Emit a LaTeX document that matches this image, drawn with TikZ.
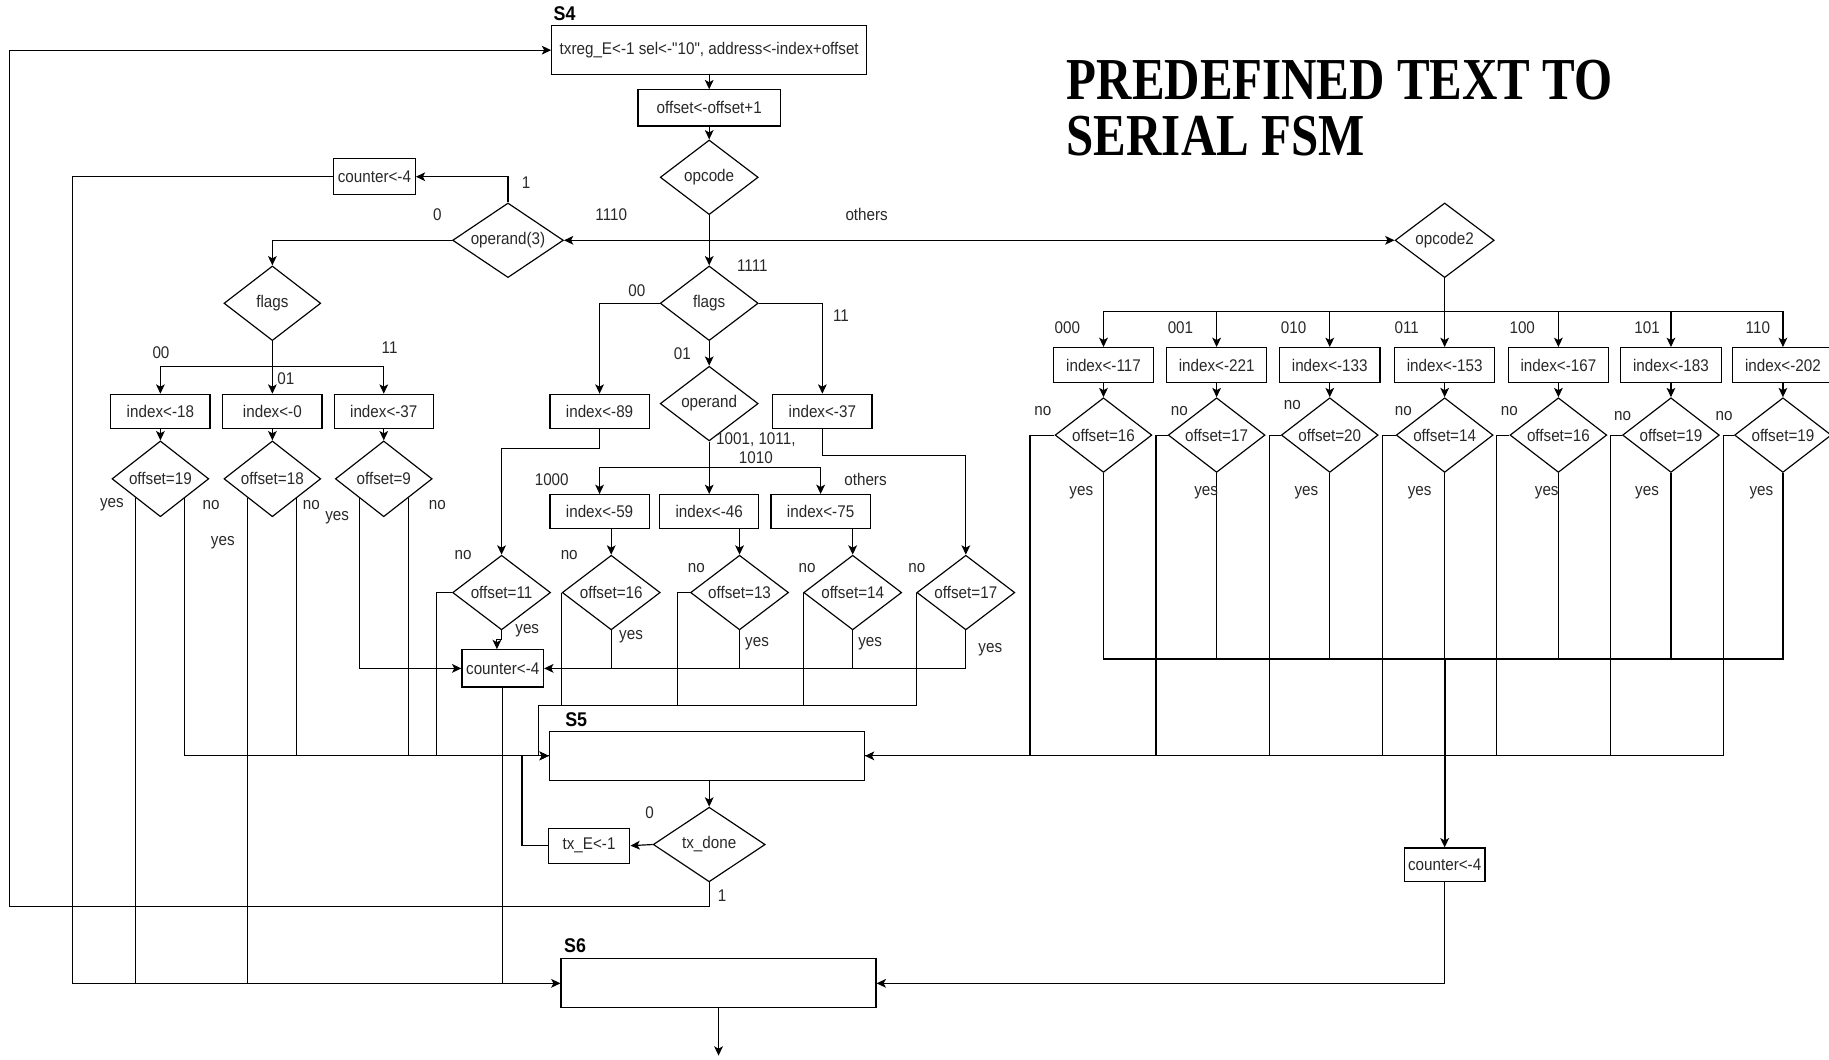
\documentclass[tikz,border=0pt]{standalone}
\usepackage{fontspec}
\setmainfont{Liberation Sans}
\newfontfamily\dfont[FakeStretch=0.9]{Liberation Sans}
\newfontfamily\tfont[FakeStretch=0.823]{Liberation Serif}
\usetikzlibrary{shapes.geometric,arrows.meta}
\definecolor{txtc}{RGB}{40,40,40}
\tikzset{
  every node/.style={font=\dfont\fontsize{14.5}{16}\selectfont, text=txtc},
  box/.style={draw, line width=1pt, inner sep=0pt, minimum width=85pt, minimum height=29pt},
  dia/.style={draw, diamond, aspect=1.4, line width=1pt, inner sep=0pt, minimum width=84pt, minimum height=64pt},
  lab/.style={inner sep=0pt},
  slab/.style={inner sep=0pt, text=black, font=\dfont\bfseries\fontsize{17}{18}\selectfont},
  ttl/.style={inner sep=0pt, text=black, anchor=base west, font=\tfont\bfseries\fontsize{51}{56}\selectfont},
  arr/.style={-{Stealth[length=8pt,width=7.5pt,inset=2pt]}},
}
\begin{document}
\begin{tikzpicture}[x=1pt,y=-1pt,line width=1pt]
\useasboundingbox (0,0) rectangle (1568,908);

% title
\node[ttl] (t1) at (914,85) {PREDEFINED TEXT TO};
\node[ttl] (t2) at (914,133) {SERIAL FSM};

% top
\node[slab] (s4l) at (484,12) {S4};
\node[box, minimum width=270pt, minimum height=42pt] (b1) at (608,43) {txreg\_E<-1 sel<-"10", address<-index+offset};
\node[box, minimum width=122pt, minimum height=31pt] (b2) at (608,92.5) {offset<-offset+1};
\node[dia] (opc) at (608,152) {opcode};
\node[dia, minimum width=95pt] (opd3) at (435.5,206) {operand(3)};
\node[box, minimum width=70pt, minimum height=31pt] (cnt1) at (321,151.5) {counter<-4};
\node[dia, minimum width=85pt] (op2) at (1238.5,206) {opcode2};

% left branch
\node[dia, minimum width=83pt] (fl) at (233.5,260) {flags};
\node[box] (i18) at (137.5,352.5) {index<-18};
\node[box] (i0) at (233.5,352.5) {index<-0};
\node[box] (i37a) at (329,352.5) {index<-37};
\node[dia, minimum width=83pt, minimum height=65pt] (d19) at (137.5,410.5) {offset=19};
\node[dia, minimum width=83pt, minimum height=65pt] (d18) at (233.5,410.5) {offset=18};
\node[dia, minimum width=83pt, minimum height=65pt] (d9) at (329,410.5) {offset=9};

% middle branch
\node[dia] (fm) at (608,260) {flags};
\node[box] (i89) at (514,352.5) {index<-89};
\node[dia] (opd) at (608,346) {\raisebox{3pt}{operand}};
\node[box] (i37b) at (705,352.5) {index<-37};
\node[box] (i59) at (514,438.5) {index<-59};
\node[box] (i46) at (608,438.5) {index<-46};
\node[box] (i75) at (703.5,438.5) {index<-75};
\node[dia] (d11) at (430,508) {offset=11};
\node[dia] (d16) at (524,508) {offset=16};
\node[dia] (d13) at (634,508) {offset=13};
\node[dia] (d14) at (731,508) {offset=14};
\node[dia] (d17) at (828,508) {offset=17};
\node[box, minimum width=70pt, minimum height=32pt] (cnt2) at (431,573) {counter<-4};

% S5 / S6
\node[slab] (s5l) at (494,617) {S5};
\node[box, minimum width=270pt, minimum height=42pt] (s5) at (606,648) {};
\node[dia, minimum width=96pt] (tx) at (608,724) {tx\_done};
\node[box, minimum width=70pt, minimum height=30pt] (txe) at (505,725) {tx\_E<-1};
\node[slab] (s6l) at (493,811) {S6};
\node[box, minimum width=270pt, minimum height=42pt] (s6) at (616,843) {};
\coordinate (s6o) at (616,905);

% right branch
\node[box, minimum width=86pt, minimum height=30pt] (j1) at (946,313) {index<-117};
\node[box, minimum width=86pt, minimum height=30pt] (j2) at (1043,313) {index<-221};
\node[box, minimum width=86pt, minimum height=30pt] (j3) at (1140,313) {index<-133};
\node[box, minimum width=86pt, minimum height=30pt] (j4) at (1238.5,313) {index<-153};
\node[box, minimum width=86pt, minimum height=30pt] (j5) at (1336,313) {index<-167};
\node[box, minimum width=86pt, minimum height=30pt] (j6) at (1432.5,313) {index<-183};
\node[box, minimum width=86pt, minimum height=30pt] (j7) at (1528.5,313) {index<-202};
\node[dia, minimum width=83pt] (r1) at (946,373) {offset=16};
\node[dia, minimum width=83pt] (r2) at (1043,373) {offset=17};
\node[dia, minimum width=83pt] (r3) at (1140,373) {offset=20};
\node[dia, minimum width=83pt] (r4) at (1238.5,373) {offset=14};
\node[dia, minimum width=83pt] (r5) at (1336,373) {offset=16};
\node[dia, minimum width=83pt] (r6) at (1432.5,373) {offset=19};
\node[dia, minimum width=83pt] (r7) at (1528.5,373) {offset=19};
\node[box, minimum width=69pt, minimum height=29pt] (cnt3) at (1238.5,741.5) {counter<-4};

% ---------- connectors ----------
\draw[arr] (b1.south) -- (b2.north);
\draw[arr] (b2.south) -- (opc.north);
\draw[arr] (opc.south) -- (fm.north);
\draw[arr] (opc.south |- opd3.east) -- (opd3.east);
\draw[arr] (opc.south |- op2.west) -- (op2.west);
\draw[arr] (opd3.north) |- (cnt1.east);
\draw[arr] (opd3.west) -| (fl.north);
\coordinate (c62) at (62,0);
\draw[arr] (cnt1.west) -| (c62 |- s6.west) -- (s6.west);

% left flags
\coordinate (fb) at (233.5,314);
\draw[arr] (fl.south) -- (i0.north);
\draw[arr] (fb) -| (i18.north);
\draw[arr] (fb) -| (i37a.north);
\draw[arr] (i18.south) -- (d19.north);
\draw[arr] (i0.south) -- (d18.north);
\draw[arr] (i37a.south) -- (d9.north);
\draw (d19.south west) -- (d19.south west |- s6.west);
\draw (d18.south west) -- (d18.south west |- s6.west);
\draw[arr] (d19.south east) |- (s5.west);
\draw (d18.south east) -- (d18.south east |- s5.west);
\draw (d9.south east) -- (d9.south east |- s5.west);
\draw[arr] (d9.south west) |- (cnt2.west);

% middle flags
\draw[arr] (fm.west) -| (i89.north);
\draw[arr] (fm.east) -| (i37b.north);
\draw[arr] (fm.south) -- (opd.north);
\coordinate (ob) at (608,401);
\draw[arr] (opd.south) -- (i46.north);
\draw[arr] (ob) -| (i59.north);
\draw[arr] (ob) -| (i75.north);
\draw[arr] (d16.north |- i59.south) -- (d16.north);
\draw[arr] (d13.north |- i46.south) -- (d13.north);
\draw[arr] (d14.north |- i75.south) -- (d14.north);
\draw[arr] (i89.south) -- ++(0,17) -| (d11.north);
\draw[arr] (i37b.south) -- ++(0,23) -| (d17.north);
\draw[arr] (d11.south) -- ++(0,8) -| ([xshift=-5pt]cnt2.north);

\coordinate (h605) at (462,605);
\draw[arr] (d17.west) |- (h605) |- (s5.west);
\draw (d16.west) -- (d16.west |- h605);
\draw (d13.west) -- ++(-11,0) |- (h605);
\draw (d14.west) -- (d14.west |- h605);
\draw (d11.west) -- ++(-13,0) |- (s5.west);

\draw[arr] (d17.south) |- (cnt2.east);
\draw (d16.south) -- (d16.south |- cnt2.east);
\draw (d13.south) -- (d13.south |- cnt2.east);
\draw (d14.south) -- (d14.south |- cnt2.east);
\draw (cnt2.south) -- (cnt2.south |- s6.west);

% S5 / tx_done
\draw[arr] (tx.north |- s5.south) -- (tx.north);
\draw[arr] (tx.west) -- (txe.east);
\draw (txe.west) -- ++(-22,0) |- (s5.west);
\coordinate (lp) at (8,777);
\draw[arr] (tx.south) |- (lp) |- (b1.west);
\draw[arr] (s6.south) -- (s6o);

% right
\coordinate (rb) at (1238.5,267);
\draw[arr] (op2.south) -- (j4.north);
\foreach \n in {j1,j2,j3,j5,j6,j7} { \draw[arr] (rb) -| (\n.north); }
\foreach \i in {1,...,7} { \draw[arr] (j\i.south) -- (r\i.north); }
\coordinate (yb) at (0,565);
\draw (r1.south) |- (r7.south |- yb) -- (r7.south);
\foreach \i in {2,...,6} { \draw (r\i.south) -- (r\i.south |- yb); }
\draw[arr, line width=1.6pt] (r4.south |- yb) -- (cnt3.north);
\draw[arr] (r7.west) -- ++(-9,0) |- (s5.east);
\draw (r1.west) -- ++(-21,0) |- (s5.east);
\draw (r2.west) -- ++(-10,0) |- (s5.east);
\draw (r3.west) -- ++(-10,0) |- (s5.east);
\draw (r4.west) -- ++(-11,0) |- (s5.east);
\draw (r5.west) -- ++(-11,0) |- (s5.east);
\draw (r6.west) -- ++(-10,0) |- (s5.east);
\draw[arr] (cnt3.south) |- (s6.east);

% ---------- labels ----------
\node[lab] (l1) at (451,157) {1};
\node[lab] (l0) at (375,184) {0};
\node[lab] (l1110) at (524,184) {1110};
\node[lab] (loth) at (743,184) {others};
\node[lab] (l1111) at (645,228) {1111};
\node[lab] (la00) at (138,302) {00};
\node[lab] (la11) at (334,298) {11};
\node[lab] (la01) at (245,325) {01};
\node[lab] (ly1) at (96,433) {yes};
\node[lab] (ln1) at (181,433) {no};
\node[lab] (ln2) at (267,433) {no};
\node[lab] (ly2) at (191,465) {yes};
\node[lab] (ly3) at (289,444) {yes};
\node[lab] (ln3) at (375,433) {no};
\node[lab] (lb00) at (546,249) {00};
\node[lab] (lb11) at (721,271) {11};
\node[lab] (lb01) at (585,303) {01};
\node[lab, align=center] (lops) at (648,384) {1001, 1011,\\1010};
\node[lab] (l1000) at (473,411) {1000};
\node[lab] (loth2) at (742,411) {others};
\node[lab] (lmn1) at (397,476) {no};
\node[lab] (lmn2) at (488,476) {no};
\node[lab] (lmn3) at (597,487) {no};
\node[lab] (lmn4) at (692,487) {no};
\node[lab] (lmn5) at (786,487) {no};
\node[lab] (lmy1) at (452,541) {yes};
\node[lab] (lmy2) at (541,546) {yes};
\node[lab] (lmy3) at (649,552) {yes};
\node[lab] (lmy4) at (746,552) {yes};
\node[lab] (lmy5) at (849,557) {yes};
\node[lab] (ltx0) at (557,697) {0};
\node[lab] (ltx1) at (619,768) {1};
\node[lab] (lr1) at (915,281) {000};
\node[lab] (lr2) at (1012,281) {001};
\node[lab] (lr3) at (1109,281) {010};
\node[lab] (lr4) at (1206,281) {011};
\node[lab] (lr5) at (1305,281) {100};
\node[lab] (lr6) at (1412,281) {101};
\node[lab] (lr7) at (1507,281) {110};
\node[lab] (lrn1) at (894,352) {no};
\node[lab] (lrn2) at (1011,352) {no};
\node[lab] (lrn3) at (1108,347) {no};
\node[lab] (lrn4) at (1203,352) {no};
\node[lab] (lrn5) at (1294,352) {no};
\node[lab] (lrn6) at (1391,357) {no};
\node[lab] (lrn7) at (1478,357) {no};
\node[lab] (lry1) at (927,422) {yes};
\node[lab] (lry2) at (1034,422) {yes};
\node[lab] (lry3) at (1120,422) {yes};
\node[lab] (lry4) at (1217,422) {yes};
\node[lab] (lry5) at (1326,422) {yes};
\node[lab] (lry6) at (1412,422) {yes};
\node[lab] (lry7) at (1510,422) {yes};
\end{tikzpicture}
\end{document}
